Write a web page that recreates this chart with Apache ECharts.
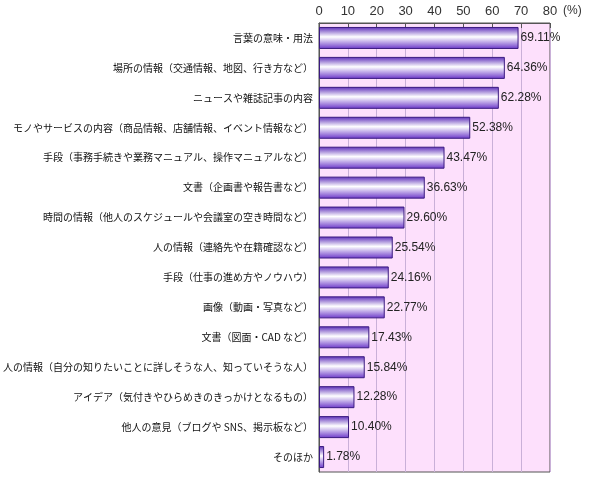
<!DOCTYPE html>
<html>
<head>
<meta charset="utf-8">
<script src="https://cdn.jsdelivr.net/npm/echarts@6/dist/echarts.min.js"></script>
<style>body{margin:0;background:#fff}#main{width:590px;height:480px}</style>
</head>
<body>
<div id="main"></div>
<script>
var categories = ['言葉の意味・用法','場所の情報（交通情報、地図、行き方など）','ニュースや雑誌記事の内容','モノやサービスの内容（商品情報、店舗情報、イベント情報など）','手段（事務手続きや業務マニュアル、操作マニュアルなど）','文書（企画書や報告書など）','時間の情報（他人のスケジュールや会議室の空き時間など）','人の情報（連絡先や在籍確認など）','手段（仕事の進め方やノウハウ）','画像（動画・写真など）','文書（図面・CAD など）','人の情報（自分の知りたいことに詳しそうな人、知っていそうな人）','アイデア（気付きやひらめきのきっかけとなるもの）','他人の意見（ブログや SNS、掲示板など）','そのほか'];
var values = [69.11,64.36,62.28,52.38,43.47,36.63,29.60,25.54,24.16,22.77,17.43,15.84,12.28,10.40,1.78];
var tickLabels = [0,10,20,30,40,50,60,70,80];

var chart = echarts.init(document.getElementById('main'));
chart.setOption({
  animation:false,
  graphic:[{type:'text',left:563,top:5,style:{text:'(%)',fill:'#333',font:'12px sans-serif'}}],
  grid:{left:316,right:40,top:23,bottom:8,show:true,backgroundColor:'#fde0fc',borderColor:'#555',borderWidth:1},
  xAxis:{type:'value',position:'top',min:0,max:80,interval:10,
    axisLine:{show:true,lineStyle:{color:'#555'}},
    axisTick:{show:true,inside:true,length:5,lineStyle:{color:'#555'}},
    axisLabel:{color:'#333',fontSize:13,margin:5,formatter:function(v){return tickLabels.indexOf(v)>=0?String(v):'';}},
    splitLine:{show:true,lineStyle:{color:'#c9b0d8'}}},
  yAxis:{type:'category',inverse:true,data:categories,
    axisLine:{show:true,lineStyle:{color:'#555'}},axisTick:{show:false},
    axisLabel:{color:'#111',fontSize:10,margin:6,fontFamily:'Noto Sans CJK JP'}},
  series:[{type:'bar',data:values,barWidth:22,
    itemStyle:{borderColor:'#3a1a80',borderWidth:1,
      color:new echarts.graphic.LinearGradient(0,0,0,1,[
        {offset:0,color:'#5a2ab8'},{offset:0.45,color:'#ffffff'},{offset:1,color:'#6a36c8'}])},
    label:{show:true,position:'right',distance:2,color:'#222',fontSize:12,
      formatter:function(p){return p.value.toFixed(2)+'%';}}}]
});
</script>
</body>
</html>
